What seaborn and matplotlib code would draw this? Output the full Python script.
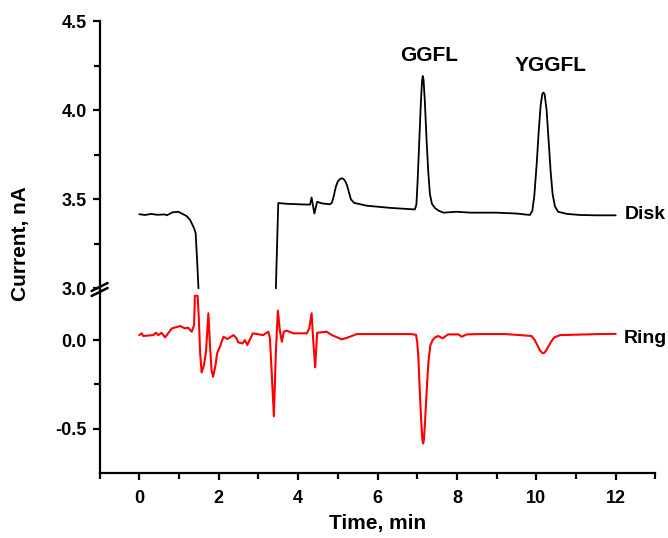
import numpy as np
import pandas as pd
import matplotlib
matplotlib.use("Agg")
import matplotlib.pyplot as plt
from matplotlib.lines import Line2D
from matplotlib.ticker import FixedLocator
import seaborn as sns

# ---- data ----
# disk trace, first segment (before the off-scale dip)
disk_t1 = [0.0, 0.15, 0.3, 0.45, 0.65, 0.69, 0.84, 0.98, 1.07, 1.19, 1.28, 1.38, 1.42, 1.46, 1.49]
disk_i1 = [3.416, 3.412, 3.418, 3.413, 3.415, 3.41, 3.427, 3.430, 3.42, 3.406, 3.384, 3.337, 3.309, 3.14, 3.0]
# disk trace, second segment (after the off-scale dip)
disk_t2 = [3.44, 3.50, 3.7, 4.0, 4.3, 4.34, 4.41, 4.48, 4.6, 4.8, 4.85, 4.9, 4.95, 5.0, 5.06, 5.12,
           5.18, 5.23, 5.28, 5.33, 5.41, 5.73, 6.31, 6.94, 6.98, 7.01, 7.05, 7.09, 7.12, 7.14, 7.16,
           7.19, 7.24, 7.28, 7.32, 7.37, 7.45, 7.55, 7.66, 7.99, 8.35, 9.0, 9.5, 9.84, 9.90, 9.95,
           10.01, 10.06, 10.11, 10.15, 10.18, 10.21, 10.26, 10.31, 10.36, 10.41, 10.47, 10.55, 10.77,
           11.1, 11.5, 12.0]
disk_i2 = [3.0, 3.479, 3.475, 3.472, 3.47, 3.51, 3.42, 3.486, 3.477, 3.472, 3.48, 3.52, 3.57, 3.60, 3.615, 3.618,
           3.605, 3.58, 3.54, 3.50, 3.48, 3.464, 3.452, 3.443, 3.47, 3.60, 3.815, 4.03, 4.16, 4.193, 4.17,
           4.06, 3.815, 3.65, 3.53, 3.475, 3.45, 3.435, 3.425, 3.43, 3.425, 3.425, 3.42, 3.412, 3.435, 3.52,
           3.70, 3.88, 4.03, 4.09, 4.10, 4.09, 4.00, 3.83, 3.66, 3.53, 3.46, 3.43, 3.418,
           3.412, 3.41, 3.41]

ring_t = [0.0, 0.06, 0.10, 0.35, 0.42, 0.48, 0.56, 0.65, 0.82, 1.03, 1.15, 1.23, 1.32, 1.38, 1.40, 1.47,
          1.50, 1.53, 1.57, 1.63, 1.68, 1.74, 1.78, 1.82, 1.86, 1.92, 1.96, 2.03, 2.12, 2.22, 2.37, 2.44,
          2.49, 2.60, 2.66, 2.72, 2.86, 3.12, 3.25, 3.29, 3.33, 3.39, 3.44, 3.49, 3.54, 3.59, 3.64, 3.71,
          3.88, 4.22, 4.28, 4.34, 4.38, 4.43, 4.48, 4.72, 4.85, 5.10, 5.26, 5.48, 6.82, 6.97, 7.0, 7.03,
          7.06, 7.10, 7.13, 7.15, 7.17, 7.20, 7.24, 7.28, 7.33, 7.39, 7.45, 7.53, 7.64, 7.78, 8.04, 8.12,
          8.25, 8.58, 9.21, 9.59, 9.88, 9.96, 10.03, 10.09, 10.15, 10.19, 10.24, 10.30, 10.37, 10.45,
          10.60, 11.6, 12.0]
ring_i = [0.028, 0.038, 0.023, 0.028, 0.041, 0.028, 0.041, 0.015, 0.066, 0.079, 0.066, 0.07, 0.047, 0.085, 0.25, 0.25,
          0.12, -0.066, -0.183, -0.141, -0.066, 0.151, -0.028, -0.17, -0.207, -0.141, -0.075, -0.038, 0.019, 0.006, 0.028, 0.013,
          -0.013, -0.019, 0.0, -0.028, 0.038, 0.028, 0.047, 0.01, -0.16, -0.43, -0.066, 0.166, 0.056, -0.01, 0.047, 0.053,
          0.038, 0.038, 0.066, 0.151, 0.0, -0.154, 0.041, 0.047, 0.028, 0.004, 0.015, 0.034, 0.034, 0.03, -0.01, -0.10,
          -0.26, -0.45, -0.56, -0.584, -0.56, -0.45, -0.28, -0.13, -0.03, 0.0, 0.015, 0.023, 0.01, 0.032, 0.032, 0.019,
          0.032, 0.034, 0.034, 0.028, 0.023, 0.0, -0.03, -0.058, -0.072, -0.074, -0.062, -0.038, -0.01, 0.015,
          0.028, 0.034, 0.035]

peak_labels = ["GGFL", "YGGFL"]
peak_t = [7.29, 10.35]
peak_y = [4.31, 4.25]
trace_labels = ["Disk", "Ring"]
x_label = "Time, min"
y_label = "Current, nA"

disk_df = pd.DataFrame({
    "t": disk_t1 + disk_t2,
    "i": disk_i1 + disk_i2,
    "seg": [0] * len(disk_t1) + [1] * len(disk_t2),
})
ring_df = pd.DataFrame({"t": ring_t, "i": ring_i, "seg": [0] * len(ring_t)})

# ---- styling ----
sns.set_style("ticks")
plt.rcParams["font.family"] = ["Liberation Sans", "DejaVu Sans"]
plt.rcParams["font.weight"] = "bold"
for key in ("text.color", "axes.labelcolor", "xtick.color", "ytick.color", "axes.edgecolor"):
    plt.rcParams[key] = "black"

W, H = 668, 538
fig = plt.figure(figsize=(W / 100, H / 100), dpi=100)

def fx(px):
    return px / W

def fy(py):
    return 1 - py / H

left, right = 99.6, 655.4
top, brk, bottom = 21.3, 292.0, 473.0
ax_u = fig.add_axes([fx(left), fy(brk), fx(right - left), (brk - top) / H])
ax_l = fig.add_axes([fx(left), fy(bottom), fx(right - left), (bottom - brk) / H])

sns.lineplot(data=disk_df, x="t", y="i", units="seg", ax=ax_u, color="black", linewidth=1.3,
             estimator=None, sort=False, legend=False)
sns.lineplot(data=ring_df, x="t", y="i", units="seg", ax=ax_l, color="#ff0000", linewidth=1.5,
             estimator=None, sort=False, legend=False)

ax_u.set_xlim(-1, 13)
ax_l.set_xlim(-1, 13)
ax_u.set_ylim(4.5 - (brk - top) / 178.0, 4.5)
ax_l.set_ylim(-0.75, (340.0 - brk) / 177.0)

TS = 13
for ax in (ax_u, ax_l):
    for s in ("top", "right"):
        ax.spines[s].set_visible(False)
    ax.spines["left"].set_linewidth(1.6)
    ax.spines["bottom"].set_linewidth(1.6)
    ax.spines["left"].set_color("black")
    ax.spines["bottom"].set_color("black")
    ax.set_xlabel("")
    ax.set_ylabel("")
    ax.tick_params(axis="both", which="major", direction="out", length=5, width=1.6,
                   labelsize=TS, pad=4, color="black", labelcolor="black")
    ax.tick_params(axis="both", which="minor", direction="out", length=4, width=1.6, color="black")

ax_u.spines["bottom"].set_visible(False)
ax_u.tick_params(axis="x", which="both", bottom=False, labelbottom=False)
ax_u.yaxis.set_major_locator(FixedLocator([3.0, 3.5, 4.0, 4.5]))
ax_u.yaxis.set_minor_locator(FixedLocator([3.25, 3.75, 4.25]))
ax_u.set_yticklabels(["3.0", "3.5", "4.0", "4.5"], fontweight="bold", fontsize=TS)

ax_l.yaxis.set_major_locator(FixedLocator([0.0, -0.5]))
ax_l.yaxis.set_minor_locator(FixedLocator([-0.25]))
ax_l.set_yticklabels(["0.0", "-0.5"], fontweight="bold", fontsize=TS)
ax_l.xaxis.set_major_locator(FixedLocator([0, 2, 4, 6, 8, 10, 12]))
ax_l.xaxis.set_minor_locator(FixedLocator([-1, 1, 3, 5, 7, 9, 11, 13]))
ax_l.set_xticklabels(["0", "2", "4", "6", "8", "10", "12"], fontweight="bold", fontsize=TS)
ax_l.tick_params(axis="x", which="major", pad=7)

# annotations
for lab, t, y in zip(peak_labels, peak_t, peak_y):
    ax_u.text(t, y, lab, ha="center", va="center", fontsize=15, fontweight="bold", color="black")
ax_u.text(12.22, 3.415, trace_labels[0], ha="left", va="center", fontsize=14, fontweight="bold", color="black")
ax_l.text(12.2, 0.01, trace_labels[1], ha="left", va="center", fontsize=14, fontweight="bold", color="black")

fig.text(fx(378), fy(523), x_label, ha="center", va="center", fontsize=15, fontweight="bold", color="black")
fig.text(fx(21), fy(244), y_label, ha="center", va="center", rotation=90, fontsize=15,
         fontweight="bold", color="black")

# axis break marks "//"
for dy in (0, 5):
    fig.add_artist(Line2D([fx(left - 8), fx(left + 8)], [fy(291 + dy), fy(283 + dy)],
                          color="black", linewidth=1.8))

fig.savefig("out.png", dpi=100)
